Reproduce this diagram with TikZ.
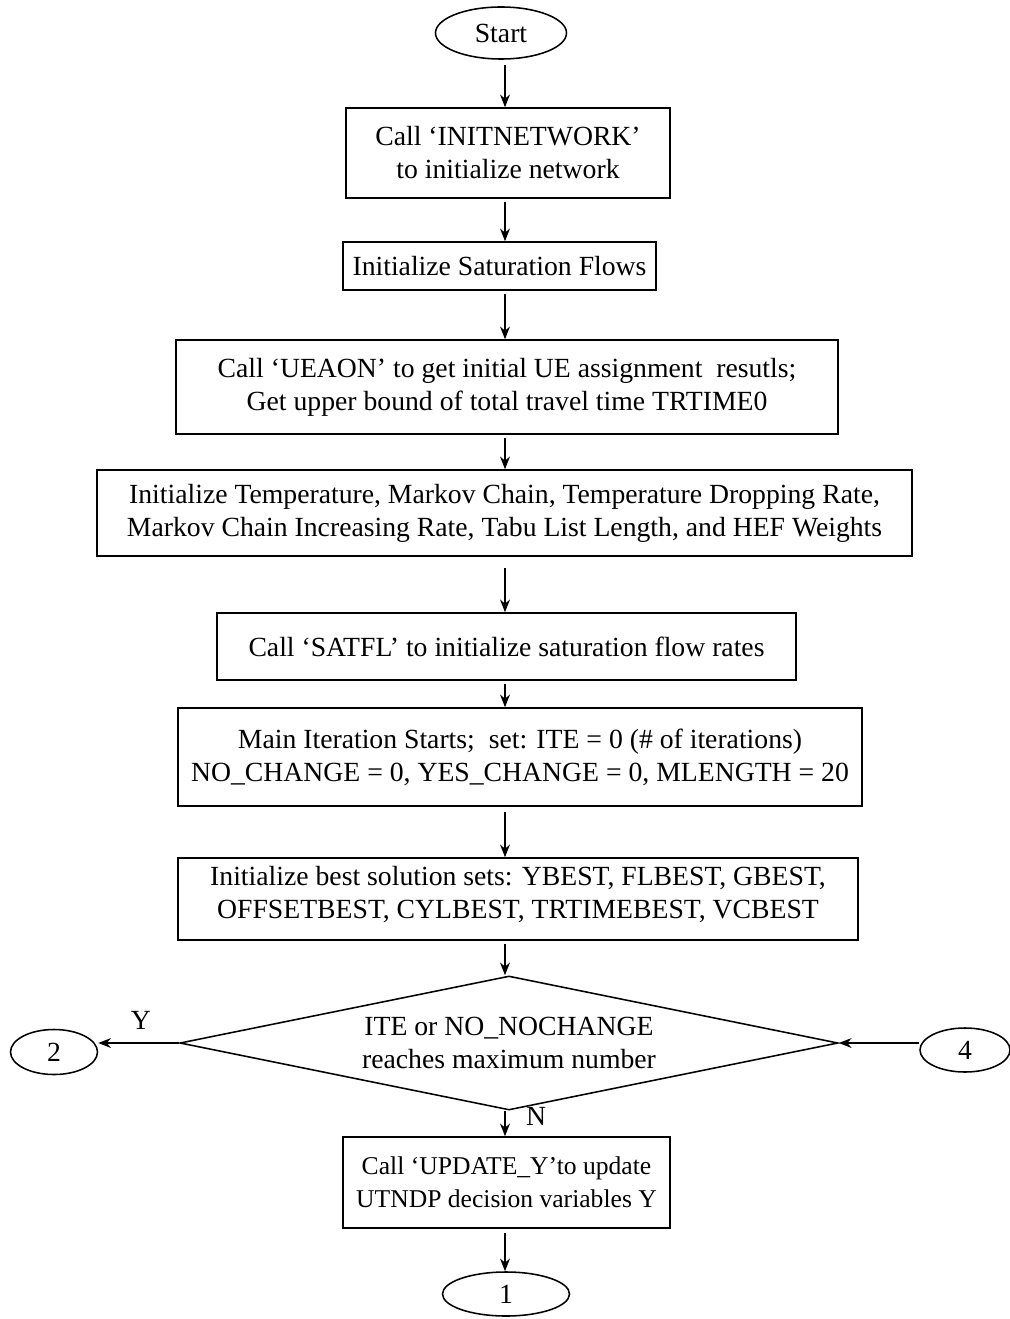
\documentclass[tikz,border=0pt]{standalone}
\usepackage{fontspec}
\setmainfont{Liberation Serif}
\usetikzlibrary{shapes.geometric,arrows.meta}
\begin{document}
\begin{tikzpicture}[x=0.025cm, y=-0.025cm,
    process/.style ={rectangle, draw, line width=1.1pt, align=center, inner sep=0pt},
    terminal/.style ={ellipse, draw, line width=1.1pt, inner sep=0pt},
    decision/.style ={diamond, aspect=5, draw, line width=1.1pt, align=center, inner sep=0pt},
    flow/.style ={line width=1.1pt, -{Stealth[length=9pt,width=7pt]}},
    font=\fontsize{19.7}{23.5}\selectfont]
   \useasboundingbox (0,0) rectangle (1010,1319);
   \coordinate (axis) at (505,0);

   \node[terminal, minimum width=3.275cm, minimum height=1.3cm] (start) at (501,33) {Start};
   \node[process, minimum width=8.1cm, minimum height=2.25cm] (initnet) at (508,153)
      {Call ‘INITNETWORK’\\ to initialize network};
   \node[process, minimum width=7.825cm, minimum height=1.2cm] (initsat) at (499.5,266)
      {Initialize Saturation Flows};
   \node[process, minimum width=16.55cm, minimum height=2.35cm] (ueaon) at (507,387)
      {Call ‘UEAON’ to get initial UE assignment~ resutls;\\ Get upper bound of total travel time TRTIME0};
   \node[process, minimum width=20.375cm, minimum height=2.15cm] (initpar) at (504.5,513)
      {Initialize Temperature, Markov Chain, Temperature Dropping Rate,\\ Markov Chain Increasing Rate, Tabu List Length, and HEF Weights};
   \node[process, minimum width=14.475cm, minimum height=1.675cm] (satfl) at (506.5,646.5)
      {Call ‘SATFL’ to initialize saturation flow rates};
   \node[process, minimum width=17.1cm, minimum height=2.45cm] (mainit) at (520,757)
      {Main Iteration Starts;~ set: ITE = 0 (\# of iterations)\\ NO\_CHANGE = 0, YES\_CHANGE = 0, MLENGTH = 20};
   \node[process, minimum width=17cm, minimum height=2.05cm] (best) at (518,899)
      {Initialize best solution sets: YBEST, FLBEST, GBEST,\\ OFFSETBEST, CYLBEST, TRTIMEBEST, VCBEST\\[-0.5cm]~};
   \node[decision, minimum width=16.45cm, minimum height=3.35cm] (check) at (509,1043)
      {ITE or NO\_NOCHANGE\\ reaches maximum number};
   \node[terminal, minimum width=2.175cm, minimum height=1.125cm] (two) at (54,1052) {2};
   \node[terminal, minimum width=2.25cm, minimum height=1.1cm] (four) at (965,1050) {4};
   \node[process, minimum width=8.175cm, minimum height=2.275cm,
      font=\fontsize{18.2}{23.5}\selectfont] (update) at (506.5,1182.5)
      {Call ‘UPDATE\_Y’to update\\ UTNDP decision variables Y};
   \node[terminal, minimum width=3.175cm, minimum height=1.1cm] (one) at (506,1294) {1};
   \node (ylab) at (141,1020) {Y};
   \node (nlab) at (536,1116) {N};

   \draw[flow, shorten <=4pt] (start.south -| axis) to (initnet.north -| axis);
   \draw[flow, shorten <=2pt] (initnet.south -| axis) to (initsat.north -| axis);
   \draw[flow, shorten <=2pt] (initsat.south -| axis) to (ueaon.north -| axis);
   \draw[flow, shorten <=2pt] (ueaon.south -| axis) to (initpar.north -| axis);
   \draw[flow, shorten <=8pt] (initpar.south -| axis) to (satfl.north -| axis);
   \draw[flow, shorten <=2pt] (satfl.south -| axis) to (mainit.north -| axis);
   \draw[flow, shorten <=4pt] (mainit.south -| axis) to (best.north -| axis);
   \draw[flow, shorten <=2pt] (best.south -| axis) to (check.north -| axis);
   \draw[flow] (check.west) to (check.west -| two.east);
   \draw[flow] (four.west |- check.east) to (check.east);
   \draw[flow] (check.south -| axis) to (update.north -| axis);
   \draw[flow, shorten <=3pt] (update.south -| axis) to (one.north -| axis);
 \end{tikzpicture}
\end{document}
